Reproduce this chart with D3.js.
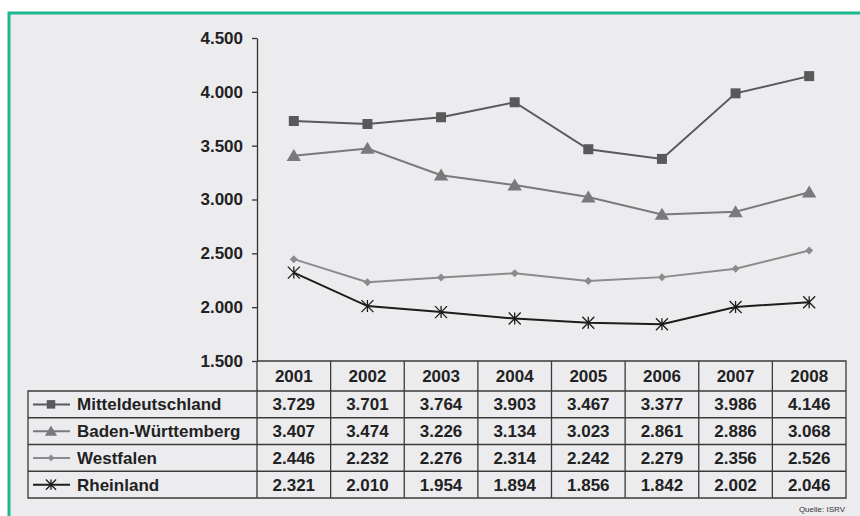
<!DOCTYPE html>
<html>
<head>
<meta charset="utf-8">
<script src="https://cdn.jsdelivr.net/npm/d3@7/dist/d3.min.js"></script>
<style>
  body { margin: 0; background: #fff; }
  svg text { font-family: "Liberation Sans", Arial, sans-serif; font-weight: bold; }
</style>
</head>
<body>
<div id="chart"></div>
<script>
var width = 860,
    height = 516;

// data
var years = ['2001', '2002', '2003', '2004', '2005', '2006', '2007', '2008'];
var seriesNames = ['Mitteldeutschland', 'Baden-Württemberg', 'Westfalen', 'Rheinland'];
var mitteldeutschland = [3729, 3701, 3764, 3903, 3467, 3377, 3986, 4146];
var badenWuerttemberg = [3407, 3474, 3226, 3134, 3023, 2861, 2886, 3068];
var westfalen = [2446, 2232, 2276, 2314, 2242, 2279, 2356, 2526];
var rheinland = [2321, 2010, 1954, 1894, 1856, 1842, 2002, 2046];
var yTicks = [1500, 2000, 2500, 3000, 3500, 4000, 4500];
var source = 'Quelle: ISRV';

var seriesValues = [mitteldeutschland, badenWuerttemberg, westfalen, rheinland];
var styles = [
    { color: '#59595b', marker: 'square', width: 2 },
    { color: '#7a7a7c', marker: 'triangle', width: 2 },
    { color: '#8b8b8d', marker: 'diamond', width: 2 },
    { color: '#1c1c1c', marker: 'star', width: 2 }
];

var plotLeft = 257, plotRight = 846, plotTop = 38, axisBottom = 361;
var tableBottom = 498, headerBottom = 391, legendLeft = 28;

var x = d3.scaleBand().domain(years).range([plotLeft, plotRight]);
var y = d3.scaleLinear().domain([1500, 4500]).range([axisBottom, plotTop]);
var rowY = d3.scaleBand().domain(seriesNames).range([headerBottom, tableBottom]);

var fmt = function (v) { return d3.format(',')(v).replace(/,/g, '.'); };

var svg = d3.select('#chart').append('svg')
    .attr('width', width)
    .attr('height', height);

// panel background + green frame
svg.append('rect')
    .attr('x', 9).attr('y', 13)
    .attr('width', width).attr('height', height)
    .attr('fill', '#ececee');
svg.append('path')
    .attr('d', 'M9,' + height + 'V13H' + width)
    .attr('fill', 'none')
    .attr('stroke', '#1db88f')
    .attr('stroke-width', 3);

// y axis
var yAxis = svg.append('g')
    .attr('transform', 'translate(' + plotLeft + ',0)')
    .call(d3.axisLeft(y).tickValues(yTicks).tickSize(5).tickSizeOuter(0).tickPadding(9)
        .tickFormat(fmt));
yAxis.select('.domain').attr('stroke', '#333').attr('stroke-width', 1.3);
yAxis.selectAll('.tick line').attr('stroke', '#333').attr('stroke-width', 1.3);
yAxis.selectAll('text')
    .attr('fill', '#222')
    .style('font-size', '17px')
    .style('font-family', '"Liberation Sans", Arial, sans-serif')
    .style('font-weight', 'bold');

function markerPath(type, size) {
    var s = size;
    if (type === 'square') return 'M' + (-s / 2) + ',' + (-s / 2) + 'h' + s + 'v' + s + 'h' + (-s) + 'Z';
    if (type === 'triangle') return 'M0,' + (-s * 0.55) + 'L' + (s * 0.6) + ',' + (s * 0.45) + 'L' + (-s * 0.6) + ',' + (s * 0.45) + 'Z';
    if (type === 'diamond') return 'M0,' + (-s / 2) + 'L' + (s / 2) + ',0L0,' + (s / 2) + 'L' + (-s / 2) + ',0Z';
    // star / asterisk
    var h = s / 2;
    return 'M' + (-h) + ',' + (-h) + 'L' + h + ',' + h + 'M' + (-h) + ',' + h + 'L' + h + ',' + (-h) +
        'M0,' + (-h) + 'V' + h;
}
var markerSize = { square: 10, triangle: 12, diamond: 8, star: 12 };

function drawMarker(g, type, color, size) {
    var p = g.append('path').attr('d', markerPath(type, size));
    if (type === 'star') {
        p.attr('fill', 'none').attr('stroke', color).attr('stroke-width', 1.3);
    } else {
        p.attr('fill', color);
    }
}

// lines
var line = d3.line()
    .x(function (d, i) { return x(years[i]) + x.bandwidth() / 2; })
    .y(function (d) { return y(d); });

seriesValues.forEach(function (vals, s) {
    var st = styles[s];
    svg.append('path')
        .datum(vals)
        .attr('d', line)
        .attr('fill', 'none')
        .attr('stroke', st.color)
        .attr('stroke-width', st.width);
    vals.forEach(function (v, i) {
        var g = svg.append('g')
            .attr('transform', 'translate(' + (x(years[i]) + x.bandwidth() / 2) + ',' + y(v) + ')');
        drawMarker(g, st.marker, st.color, markerSize[st.marker]);
    });
});

// data table
var grid = svg.append('g').attr('stroke', '#3a3a3a').attr('stroke-width', 1.3).attr('fill', 'none');
grid.append('path').attr('d', 'M' + plotLeft + ',' + axisBottom + 'H' + plotRight + 'V' + tableBottom + 'H' + legendLeft + 'V' + headerBottom + 'H' + plotRight);
grid.append('path').attr('d', 'M' + plotLeft + ',' + axisBottom + 'V' + tableBottom);
years.forEach(function (yr, i) {
    if (i === 0) return;
    grid.append('path').attr('d', 'M' + x(yr) + ',' + axisBottom + 'V' + tableBottom);
});
seriesNames.forEach(function (n, i) {
    if (i === 0) return;
    grid.append('path').attr('d', 'M' + legendLeft + ',' + rowY(n) + 'H' + plotRight);
});

svg.selectAll('.year-label')
    .data(years)
    .enter().append('text')
    .attr('class', 'year-label')
    .attr('x', function (d) { return x(d) + x.bandwidth() / 2; })
    .attr('y', (axisBottom + headerBottom) / 2)
    .attr('dy', '0.36em')
    .attr('text-anchor', 'middle')
    .attr('fill', '#222')
    .style('font-size', '17px')
    .text(function (d) { return d; });

seriesNames.forEach(function (name, s) {
    var cy = rowY(name) + rowY.bandwidth() / 2;
    var st = styles[s];
    svg.append('line')
        .attr('x1', 33).attr('x2', 70)
        .attr('y1', cy).attr('y2', cy)
        .attr('stroke', st.color)
        .attr('stroke-width', st.width);
    var g = svg.append('g').attr('transform', 'translate(51,' + cy + ')');
    drawMarker(g, st.marker, st.color, markerSize[st.marker] * 0.85);
    svg.append('text')
        .attr('x', 77)
        .attr('y', cy)
        .attr('dy', '0.36em')
        .attr('fill', '#222')
        .style('font-size', '17px')
        .text(name);
    svg.selectAll('.cell-' + s)
        .data(seriesValues[s])
        .enter().append('text')
        .attr('x', function (d, i) { return x(years[i]) + x.bandwidth() / 2; })
        .attr('y', cy)
        .attr('dy', '0.36em')
        .attr('text-anchor', 'middle')
        .attr('fill', '#222')
        .style('font-size', '17px')
        .text(function (d) { return fmt(d); });
});

svg.append('text')
    .attr('x', 845)
    .attr('y', 512)
    .attr('text-anchor', 'end')
    .attr('fill', '#333')
    .style('font-size', '8px')
    .style('font-weight', 'normal')
    .text(source);
</script>
</body>
</html>
